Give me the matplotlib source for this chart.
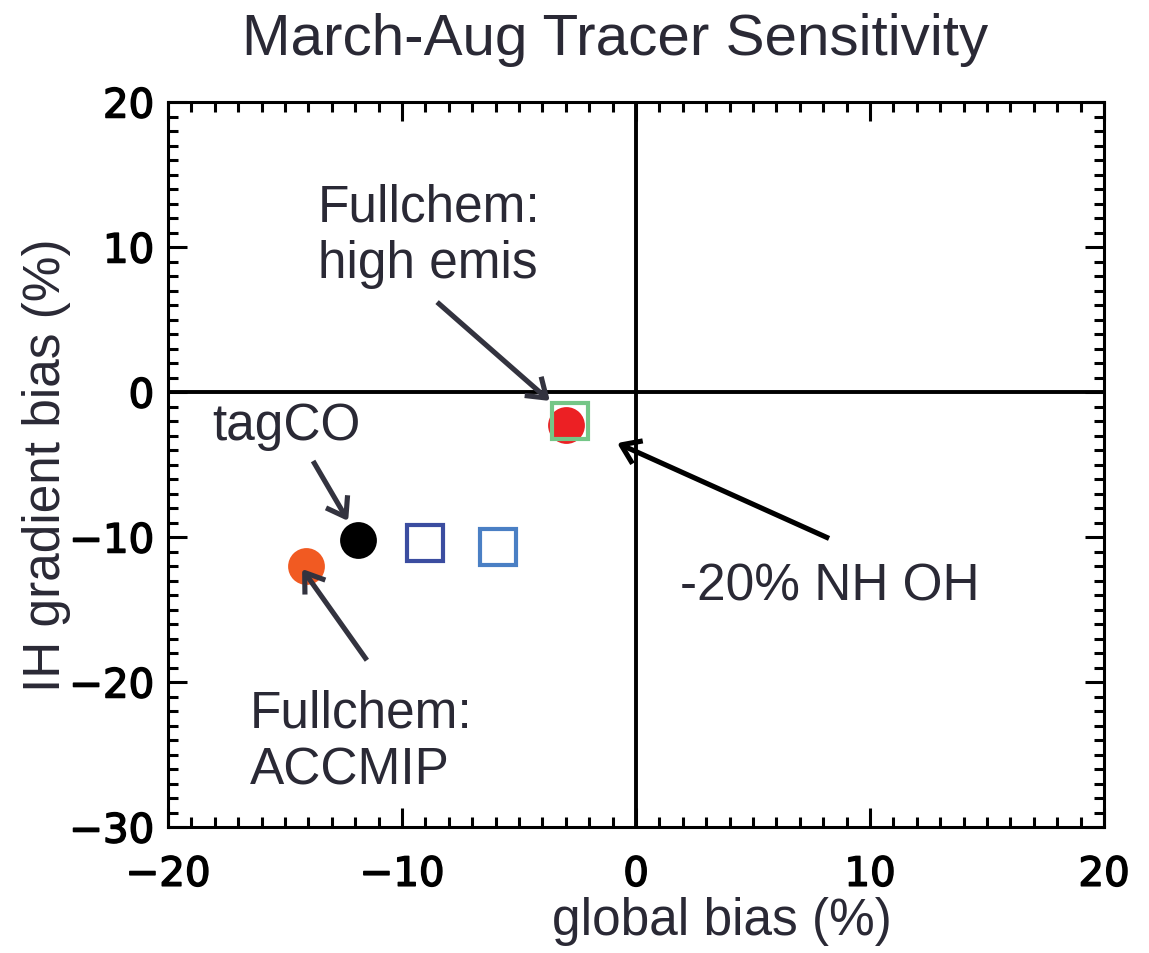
import matplotlib
matplotlib.use("Agg")
import matplotlib.pyplot as plt
import matplotlib.patheffects as pe
from matplotlib.ticker import MultipleLocator

# ---- data ----
run_names = ["Fullchem: high emis", "-20% NH OH", "tagCO", "Fullchem: ACCMIP",
             "tracer run A", "tracer run B"]
global_bias = [-3.0, -2.8, -11.9, -14.1, -9.0, -5.9]
ih_gradient_bias = [-2.3, -2.0, -10.2, -12.0, -10.4, -10.7]

# annotation texts (baseline of last line given), arrow start and tip
annot_texts = ["Fullchem:\nhigh emis", "tagCO", "Fullchem:\nACCMIP", "-20% NH OH"]
annot_text_x = [-13.6, -18.1, -16.5, 1.9]
annot_text_y = [7.93, -3.25, -27.0, -14.3]
arrow_start_x = [-8.5, -13.8, -11.5, 8.25]
arrow_start_y = [6.2, -4.76, -18.5, -10.1]
arrow_tip_x = [-3.68, -12.3, -14.27, -0.81]
arrow_tip_y = [-0.62, -8.9, -12.2, -3.52]

x_ticks = [-20, -10, 0, 10, 20]
y_ticks = [-30, -20, -10, 0, 10, 20]

# ---- styles ----
markers = ["o", "s", "o", "o", "s", "s"]
face_colors = ["#ec2024", "none", "#000000", "#f15a22", "none", "none"]
edge_colors = ["#ec2024", "#74c687", "#000000", "#f15a22", "#3b4da0", "#4a7fc4"]
arrow_colors = ["#33333f", "#33333f", "#33333f", "#000000"]
text_color = "#2a2935"

plt.rcParams['font.family'] = ['Liberation Sans', 'DejaVu Sans']

fig = plt.figure(figsize=(11.49, 9.54), dpi=100)
ax = fig.add_axes([168/1149, 1-828/954, (1104-168)/1149, (828-103)/954])

ax.set_xlim(-20, 20)
ax.set_ylim(-30, 20)

ax.axhline(0, color="black", lw=2.8, zorder=1)
ax.axvline(0, color="black", lw=2.8, zorder=1)

for i in range(len(run_names)):
    if markers[i] == "o":
        ax.plot(global_bias[i], ih_gradient_bias[i], marker="o", ms=26.5,
                mfc=face_colors[i], mec=edge_colors[i], mew=0, ls="none", zorder=3)
    else:
        ax.plot(global_bias[i], ih_gradient_bias[i], marker="s", ms=25.5,
                mfc="none", mec=edge_colors[i], mew=3.0, ls="none", zorder=4)

for i in range(len(annot_texts)):
    ax.text(annot_text_x[i], annot_text_y[i], annot_texts[i], fontsize=37,
            color=text_color, ha="left", va="baseline", linespacing=1.2)
    ax.annotate("", xy=(arrow_tip_x[i], arrow_tip_y[i]),
                xytext=(arrow_start_x[i], arrow_start_y[i]),
                arrowprops=dict(arrowstyle="->,head_length=1.3,head_width=0.9",
                                color=arrow_colors[i], lw=3.7,
                                shrinkA=0, shrinkB=0, capstyle="butt"),
                zorder=5)

ax.set_xticks(x_ticks)
ax.set_yticks(y_ticks)
ax.xaxis.set_minor_locator(MultipleLocator(1))
ax.yaxis.set_minor_locator(MultipleLocator(1))
ax.tick_params(which="both", direction="in", top=True, right=True, width=2.2,
               color="black")
ax.tick_params(which="major", length=13.5, labelsize=29)
ax.tick_params(axis="x", which="major", pad=20)
ax.tick_params(axis="y", which="major", pad=10)
ax.tick_params(which="minor", length=7)
for lab in ax.get_xticklabels() + ax.get_yticklabels():
    lab.set_family("DejaVu Sans")
    lab.set_color("black")
    lab.set_path_effects([pe.withStroke(linewidth=1.1, foreground="black")])
for s in ax.spines.values():
    s.set_linewidth(2.2)

fig.text(722/1149, 1-935/954, "global bias (%)", fontsize=37, color=text_color,
         ha="center", va="baseline")
fig.text(60/1149, 1-465/954, "IH gradient bias (%)", fontsize=37, color=text_color,
         ha="center", va="baseline", rotation=90, rotation_mode="anchor")
fig.text(0.535, 0.958, "March-Aug Tracer Sensitivity", fontsize=42,
         color=text_color, ha="center", va="center")

fig.savefig("out.png", dpi=100)
